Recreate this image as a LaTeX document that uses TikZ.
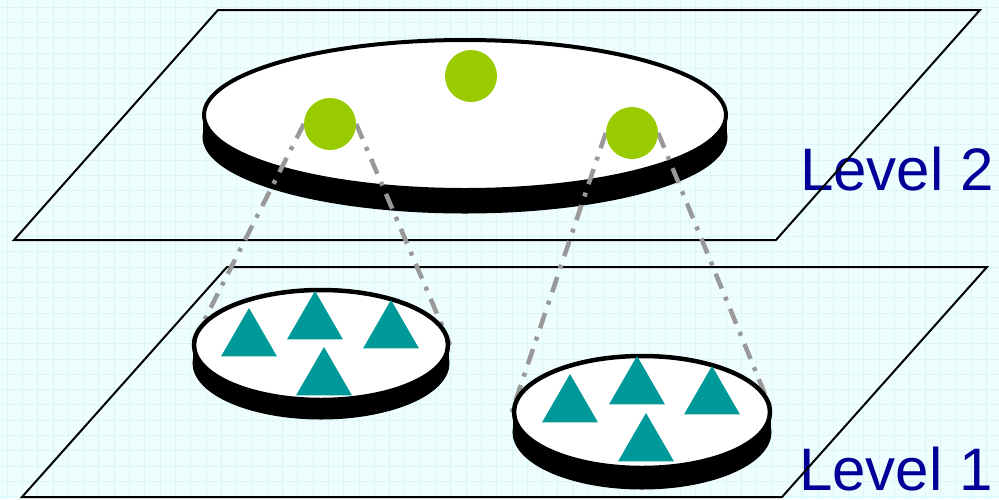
\documentclass[tikz,border=0pt]{standalone}
\usepackage{fontspec}
\setmainfont{Liberation Sans}
\usepackage{tikz}
\usetikzlibrary{shapes.geometric}

\definecolor{paper}{RGB}{238,254,254}
\definecolor{gridcyan}{RGB}{218,246,246}
\definecolor{ballgreen}{RGB}{153,204,0}
\definecolor{tealtri}{RGB}{0,153,153}
\definecolor{linkgray}{RGB}{153,153,153}
\definecolor{lvlblue}{RGB}{0,0,153}

\pgfdeclarelayer{back}
\pgfdeclarelayer{links}
\pgfsetlayers{back,links,main}

\begin{document}
\begin{tikzpicture}[x=1pt, y=-1pt,
  plane/.style={draw=black, line width=2pt, line join=miter},
  rim/.style={ellipse, fill=black, draw=black, line width=3pt, inner sep=0pt},
  face/.style={ellipse, fill=white, draw=black, line width=4pt, inner sep=0pt},
  ball/.style={circle, fill=ballgreen, minimum size=52pt, inner sep=0pt},
  tri/.style={regular polygon, regular polygon sides=3, fill=tealtri,
              minimum size=64.7pt, inner sep=0pt},
  link/.style={draw=linkgray, line width=4.5pt,
               dash pattern=on 16pt off 9pt on 4pt off 9pt},
  lvltext/.style={anchor=base west, inner sep=0pt, text=lvlblue,
                  font=\fontsize{60}{72}\selectfont},
]
\useasboundingbox (0,0) rectangle (999,499);

\begin{pgfonlayer}{back}
% ================= paper and grid =================
\fill[paper] (0,0) rectangle (999,499);
\foreach \gx in {7,22.3,...,999}
  \draw[gridcyan, line width=0.8pt] (\gx,0) -- (\gx,499);
\foreach \gy in {7,22.3,...,499}
  \draw[gridcyan, line width=0.8pt] (0,\gy) -- (999,\gy);

% labels sit under the plane edges
\node[lvltext] (lab2) at (800,190) {Level 2};
\node[lvltext] (lab1) at (799,490) {Level 1};

% ================= the two planes =================
\draw[plane] (218,10) -- (980,10) -- (776,240) -- (14,240) -- cycle;
\draw[plane] (227,267) -- (987,267) -- (782,497) -- (22,497) -- cycle;

% ================= level 2 disk =================
\node[rim, minimum width=522pt, minimum height=150pt] (bigrim) at (465,137) {};
\fill (bigrim.west) rectangle (465+262,115);
\node[face, minimum width=522pt, minimum height=150pt] (big) at (465,115) {};
\end{pgfonlayer}

% ================= level 1 disks =================
\node[rim, minimum width=254pt, minimum height=110pt] (d1rim) at (321,363) {};
\fill (d1rim.west) rectangle (321+128,345);
\node[face, line width=4.5pt, minimum width=254pt, minimum height=110pt] (d1) at (321,345) {};

\node[rim, minimum width=256pt, minimum height=112pt] (d2rim) at (642,432) {};
\fill (d2rim.west) rectangle (642+129,412);
\node[face, line width=4.5pt, minimum width=256pt, minimum height=112pt] (d2) at (642,412) {};

% members of each cluster
\foreach \n/\px/\py in {t1/249/340.3, t2/315/323.3, t3/391/332.3, t4/324/379.3,
                        t5/570/406.3, t6/637/388.3, t7/712/398.3, t8/646/445.3}
  \node[tri] (\n) at (\px,\py) {};

% cluster heads on level 2
\node[ball] (g1) at (330,124) {};
\node[ball] (g2) at (471,76)  {};
\node[ball] (g3) at (632,133) {};

% ================= projections (under the small disks) =================
\begin{pgfonlayer}{links}
\draw[link] (g1.west) -- (d1.west);
\draw[link] (g1.east) -- (d1.east);
\draw[link] (g3.west) -- (d2.west);
\draw[link] (g3.east) -- (d2.east);
\end{pgfonlayer}

\end{tikzpicture}
\end{document}
